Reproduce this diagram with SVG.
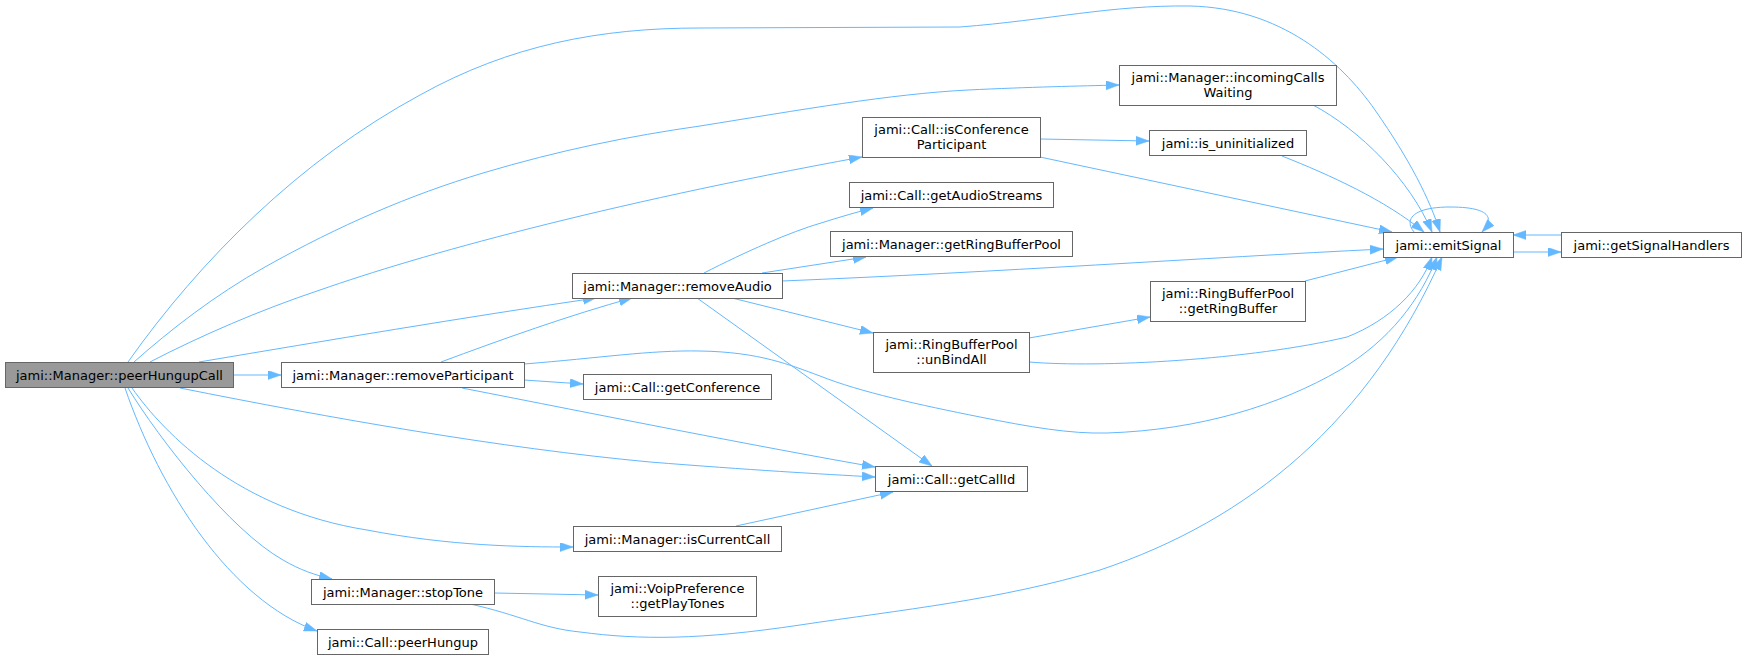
<svg xmlns="http://www.w3.org/2000/svg" width="1745" height="659" viewBox="0 0 1745 659">
<defs>
<marker id="ah" markerUnits="userSpaceOnUse" markerWidth="14" markerHeight="10" refX="13" refY="4.5" orient="auto">
<path d="M0,0 L13,4.5 L0,9 z" fill="#63b8ff" stroke="#63b8ff" stroke-width="0.5"/>
</marker>
<style>
.n rect{fill:#ffffff;stroke:#666666;stroke-width:1}
.n text{font-family:"DejaVu Sans","Liberation Sans",sans-serif;font-size:13px;fill:#000000;text-anchor:middle}
#edges path{fill:none;stroke:#63b8ff;stroke-width:1;marker-end:url(#ah)}
</style>
</defs>
<rect width="1745" height="659" fill="#ffffff"/>
<g id="edges">
<path d="M233,375 L281,375"/>
<path d="M128,362 C200,260 300,160 420,95 C510,45 600,28 700,28 L960,27 C1050,20 1110,5 1190,6 C1280,8 1340,60 1375,110 C1410,160 1430,200 1440,232"/>
<path d="M134,362 C170,330 215,295 265,267 C340,225 410,195 483,173 C560,150 630,136 700,126 C800,110 890,94 968,90 C1030,87 1080,86 1119,85"/>
<path d="M150,362 C200,336 260,310 320,290 C420,255 600,205 862,157"/>
<path d="M199,362 C330,340 460,318 596,298"/>
<path d="M441,362 C500,340 570,315 632,298"/>
<path d="M524,380 L583,384"/>
<path d="M462,388 C600,415 760,447 875,467"/>
<path d="M524,364 C600,358 650,350 700,351 C760,352 790,365 820,376 C860,392 920,405 980,417 C1030,427 1070,434 1107,433 C1200,430 1280,405 1340,370 C1390,340 1420,300 1437,257"/>
<path d="M180,388 C330,418 500,448 650,462 C750,470 820,474 875,477"/>
<path d="M132,388 C165,435 240,510 367,530 C450,546 520,547 573,547"/>
<path d="M128,388 C160,440 230,530 283,560 C300,570 315,575 332,579"/>
<path d="M125,388 C160,490 230,600 317,631"/>
<path d="M494,593 L598,595"/>
<path d="M470,604 C520,615 540,628 580,632 C640,640 700,640 800,625 C900,610 1000,600 1100,570 C1250,520 1370,420 1442,257"/>
<path d="M704,273 C745,252 790,232 821,223 C840,217 857,212 873,208"/>
<path d="M762,273 L866,257"/>
<path d="M782,281 C1000,272 1200,258 1383,249"/>
<path d="M732,298 L873,333"/>
<path d="M697,298 L932,466"/>
<path d="M736,526 L893,492"/>
<path d="M1040,139 L1149,141"/>
<path d="M1040,157 L1392,232"/>
<path d="M1313,105 C1360,130 1410,180 1432,232"/>
<path d="M1282,156 C1330,175 1385,200 1424,232"/>
<path d="M1029,338 L1150,317"/>
<path d="M1029,362 C1100,368 1250,360 1347,337 C1390,320 1420,290 1432,257"/>
<path d="M1305,281 L1398,257"/>
<path d="M1414,232 C1404,220 1412,207 1450,207 C1488,207 1496,217 1482,232"/>
<path d="M1513,252 L1561,252"/>
<path d="M1561,235 L1513,235"/>
</g>
<g id="peerHungupCall" class="n"><rect x="5.5" y="362.5" width="228" height="25" style="fill:#999999"/><text x="119.5" y="379.5">jami::Manager::peerHungupCall</text></g>
<g id="removeParticipant" class="n"><rect x="281.5" y="362.5" width="243" height="25"/><text x="403" y="379.5">jami::Manager::removeParticipant</text></g>
<g id="stopTone" class="n"><rect x="311.5" y="579.5" width="183" height="25"/><text x="403" y="596.5">jami::Manager::stopTone</text></g>
<g id="peerHungup" class="n"><rect x="317.5" y="629.5" width="171" height="25"/><text x="403" y="646.5">jami::Call::peerHungup</text></g>
<g id="removeAudio" class="n"><rect x="572.5" y="273.5" width="210" height="25"/><text x="677.5" y="290.5">jami::Manager::removeAudio</text></g>
<g id="getConference" class="n"><rect x="583.5" y="374.5" width="188" height="25"/><text x="677.5" y="391.5">jami::Call::getConference</text></g>
<g id="isCurrentCall" class="n"><rect x="573.5" y="526.5" width="208" height="25"/><text x="677.5" y="543.5">jami::Manager::isCurrentCall</text></g>
<g id="getPlayTones" class="n"><rect x="598.5" y="576.5" width="158" height="40"/><text x="677.5" y="593">jami::VoipPreference</text><text x="677.5" y="608">::getPlayTones</text></g>
<g id="isConferenceParticipant" class="n"><rect x="862.5" y="117.5" width="178" height="40"/><text x="951.5" y="134">jami::Call::isConference</text><text x="951.5" y="149">Participant</text></g>
<g id="getAudioStreams" class="n"><rect x="849.5" y="182.5" width="204" height="25"/><text x="951.5" y="199.5">jami::Call::getAudioStreams</text></g>
<g id="getRingBufferPool" class="n"><rect x="830.5" y="231.5" width="242" height="25"/><text x="951.5" y="248.5">jami::Manager::getRingBufferPool</text></g>
<g id="unBindAll" class="n"><rect x="873.5" y="332.5" width="156" height="40"/><text x="951.5" y="349">jami::RingBufferPool</text><text x="951.5" y="364">::unBindAll</text></g>
<g id="getCallId" class="n"><rect x="875.5" y="466.5" width="152" height="25"/><text x="951.5" y="483.5">jami::Call::getCallId</text></g>
<g id="incomingCallsWaiting" class="n"><rect x="1119.5" y="65.5" width="217" height="40"/><text x="1228" y="82">jami::Manager::incomingCalls</text><text x="1228" y="97">Waiting</text></g>
<g id="is_uninitialized" class="n"><rect x="1149.5" y="130.5" width="157" height="25"/><text x="1228" y="147.5">jami::is_uninitialized</text></g>
<g id="getRingBuffer" class="n"><rect x="1150.5" y="281.5" width="155" height="40"/><text x="1228" y="298">jami::RingBufferPool</text><text x="1228" y="313">::getRingBuffer</text></g>
<g id="emitSignal" class="n"><rect x="1383.5" y="232.5" width="130" height="25"/><text x="1448.5" y="249.5">jami::emitSignal</text></g>
<g id="getSignalHandlers" class="n"><rect x="1561.5" y="232.5" width="180" height="25"/><text x="1651.5" y="249.5">jami::getSignalHandlers</text></g>
</svg>
